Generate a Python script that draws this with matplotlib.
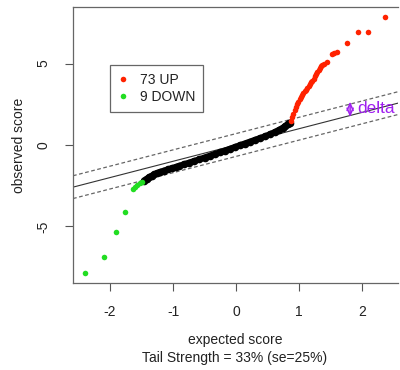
import matplotlib.pyplot as plt
import matplotlib.lines as mlines
import numpy as np

plt.rcParams['font.family'] = ['Liberation Sans', 'DejaVu Sans']
plt.rcParams['axes.unicode_minus'] = False

# puntos negros (genes no significativos)
x_negro = [-1.46, -1.42, -1.38, -1.34, -1.30, -1.26, -1.20, -1.14, -1.08, -1.02, -0.96, -0.90,
           -0.82, -0.74, -0.66, -0.58, -0.50, -0.42, -0.34, -0.26, -0.18, -0.10, -0.02, 0.06,
           0.14, 0.22, 0.30, 0.38, 0.46, 0.54, 0.62, 0.68, 0.74, 0.78, 0.82, 0.85]
y_negro = [-2.18, -2.08, -1.98, -1.89, -1.81, -1.74, -1.65, -1.57, -1.50, -1.43, -1.36, -1.28,
           -1.18, -1.08, -0.98, -0.88, -0.77, -0.67, -0.56, -0.46, -0.35, -0.24, -0.13, -0.02,
           0.09, 0.20, 0.31, 0.42, 0.53, 0.66, 0.80, 0.92, 1.05, 1.16, 1.28, 1.38]

# puntos rojos (UP)
x_rojo = [0.87, 0.89, 0.91, 0.93, 0.95, 0.97, 0.99, 1.01, 1.03, 1.05, 1.07, 1.09, 1.11, 1.13,
          1.15, 1.17, 1.19, 1.21, 1.23, 1.25, 1.27, 1.29, 1.31, 1.33, 1.35, 1.37, 1.39, 1.44,
          1.52, 1.56, 1.60, 1.76, 1.93, 2.09, 2.37]
y_rojo = [1.48, 1.70, 1.92, 2.12, 2.32, 2.50, 2.66, 2.80, 2.94, 3.06, 3.17, 3.29, 3.40, 3.52,
          3.62, 3.73, 3.84, 3.95, 4.08, 4.22, 4.34, 4.47, 4.60, 4.72, 4.83, 4.90, 4.97, 5.11,
          5.58, 5.62, 5.69, 6.28, 6.91, 6.91, 7.83]

# puntos verdes (DOWN)
x_verde = [-2.40, -2.10, -1.90, -1.76, -1.63, -1.60, -1.57, -1.53, -1.49]
y_verde = [-7.85, -6.87, -5.34, -4.11, -2.72, -2.60, -2.48, -2.36, -2.25]

delta = 0.7
n_up = 73
n_down = 9
tail_strength = 33
se = 25

fig = plt.figure(figsize=(4.0, 3.7), dpi=100)
ax = fig.add_axes([73/400, 87/370, 325/400, 276/370])

# lineas de referencia
ax.axline((0, 0), slope=1, color='#333333', lw=0.8)
ax.axline((0, delta), slope=1, color='#666666', lw=0.9, ls=(0, (3, 2)))
ax.axline((0, -delta), slope=1, color='#666666', lw=0.9, ls=(0, (3, 2)))

ax.plot(x_negro, y_negro, color='black', lw=4.5, marker='o', ms=4.5, solid_capstyle='round')
ax.plot(x_rojo, y_rojo, ls='none', marker='o', ms=4, color='#ff2200', mec='none')
ax.plot(x_verde, y_verde, ls='none', marker='o', ms=4, color='#22dd22', mec='none')

ax.set_xlim(-2.587, 2.57)
ax.set_ylim(-8.47, 8.47)
ax.set_xticks([-2, -1, 0, 1, 2])
ax.set_yticks([-5, 0, 5])
ax.tick_params(direction='out', length=6, width=0.8, color='#555555', labelsize=10, labelcolor='#222222')
ax.tick_params(axis='x', pad=10)
ax.tick_params(axis='y', pad=10)
for lab in ax.get_yticklabels():
    lab.set_rotation(90)
    lab.set_va('center')
for lado in ['left', 'bottom', 'top']:
    ax.spines[lado].set_color('#666666')
    ax.spines[lado].set_linewidth(0.9)
ax.spines['right'].set_visible(False)

ax.set_xlabel('expected score', fontsize=10, color='#222222', labelpad=10)
ax.set_ylabel('observed score', fontsize=10, color='#222222', labelpad=8)
fig.text(235/400, 1 - 358/370, 'Tail Strength = %d%% (se=%d%%)' % (tail_strength, se),
         ha='center', va='center', fontsize=10, color='#222222')

# marcador delta
ax.annotate('', xy=(1.81, 1.72), xytext=(1.81, 2.66),
            arrowprops=dict(arrowstyle='<->,head_length=0.5,head_width=0.22', color='#a020f0', lw=1.1,
                            shrinkA=0, shrinkB=0))
ax.text(1.92, 2.22, 'delta', color='#a020f0', fontsize=12.5, ha='left', va='center', clip_on=False)

# leyenda
h_up = mlines.Line2D([], [], ls='none', marker='o', ms=4, color='#ff2200', mec='none')
h_down = mlines.Line2D([], [], ls='none', marker='o', ms=4, color='#22dd22', mec='none')
leg = ax.legend([h_up, h_down], ['%d UP' % n_up, '%d DOWN' % n_down], loc='upper left',
                bbox_to_anchor=(0.114, 0.790), borderaxespad=0, fontsize=10, fancybox=False,
                framealpha=1, edgecolor='#666666', handlelength=0.8, handletextpad=0.8,
                borderpad=0.55, labelspacing=0.25)
leg.get_frame().set_linewidth(0.9)
for t in leg.get_texts():
    t.set_color('#222222')

plt.savefig('out.png', dpi=100)
